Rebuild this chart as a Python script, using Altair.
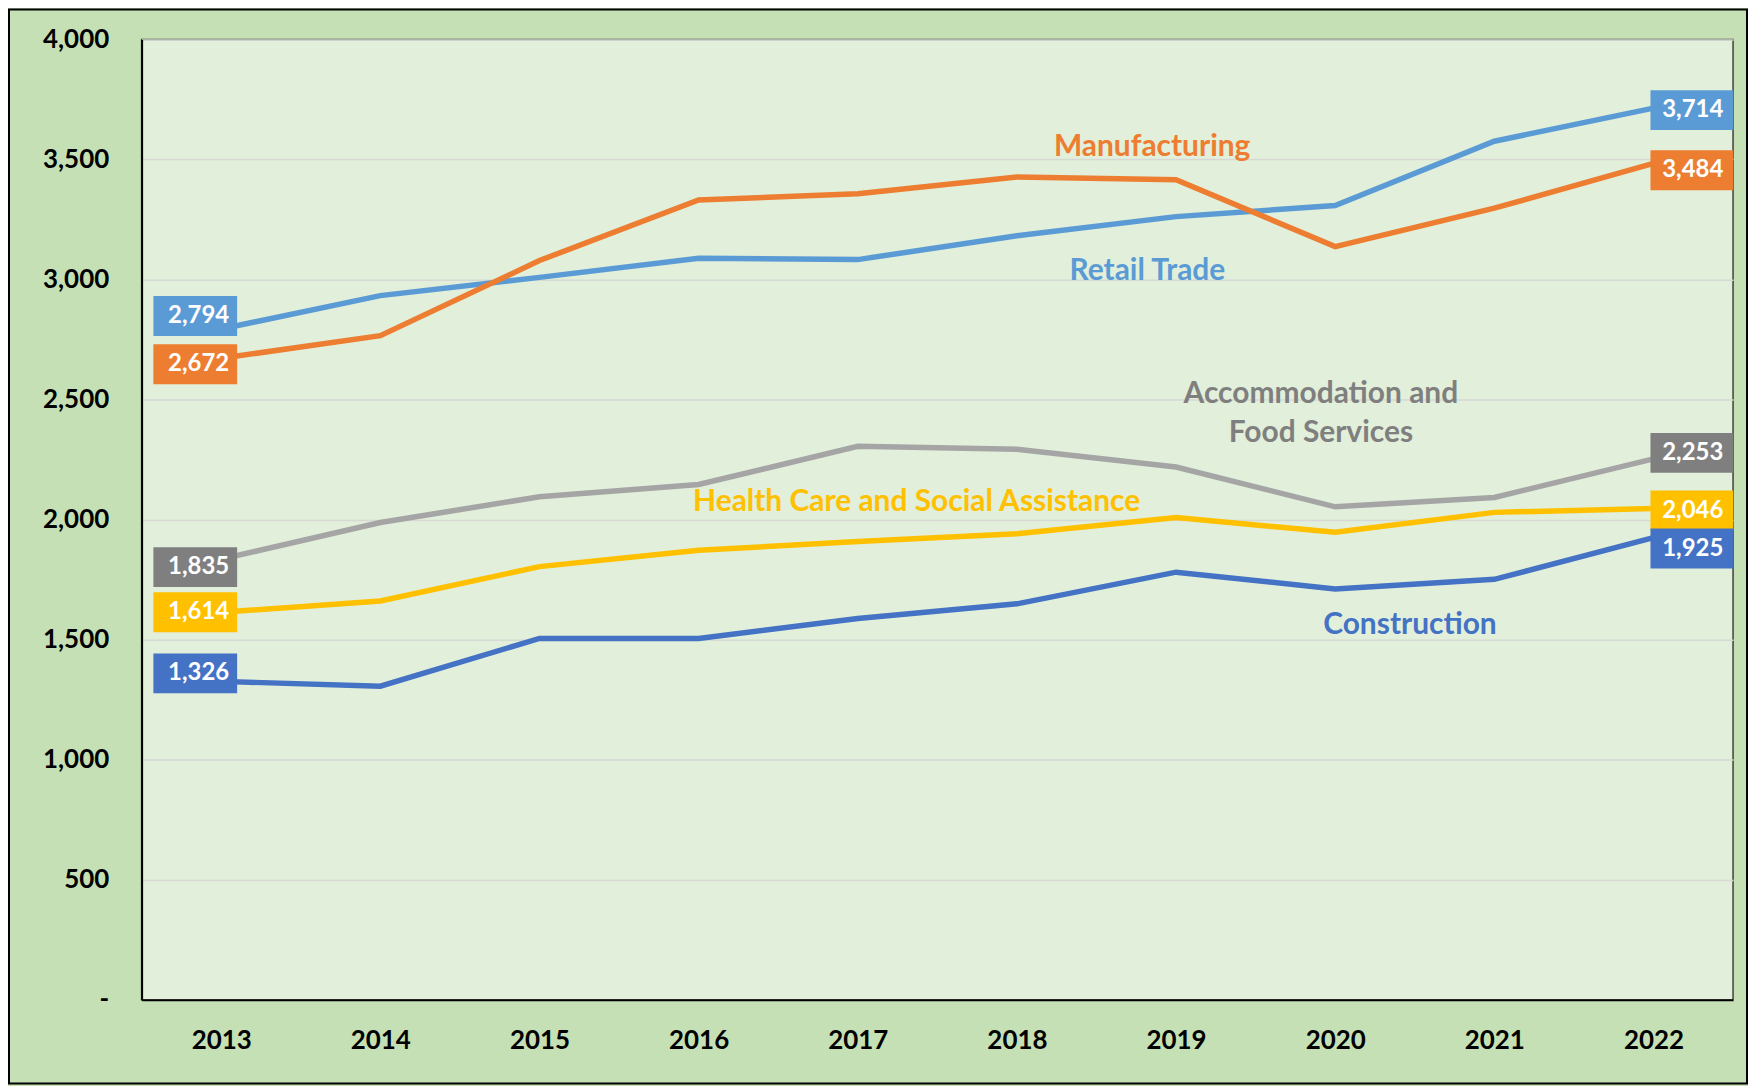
import altair as alt
import pandas as pd

# ---------------- data ----------------
years = list(range(2013, 2023))
series_names = ["Retail Trade", "Manufacturing", "Accommodation and Food Services",
                "Health Care and Social Assistance", "Construction"]
retail = [2794, 2933, 3009, 3089, 3083, 3182, 3262, 3308, 3576, 3714]
manufacturing = [2672, 2766, 3079, 3331, 3357, 3427, 3416, 3137, 3297, 3484]
accommodation = [1835, 1988, 2095, 2146, 2305, 2293, 2219, 2053, 2092, 2253]
health = [1614, 1661, 1804, 1872, 1909, 1941, 2009, 1947, 2030, 2046]
construction = [1326, 1306, 1505, 1505, 1588, 1649, 1781, 1711, 1751, 1925]
y_ticks = [0, 500, 1000, 1500, 2000, 2500, 3000, 3500, 4000]

# ---------------- styles ----------------
line_colors = ["#5b9bd5", "#ed7d31", "#a5a5a5", "#ffc000", "#4472c4"]
box_colors = ["#5b9bd5", "#ed7d31", "#7f7f7f", "#ffc000", "#4472c4"]
FONT = "Lato"
PLOT_W, PLOT_H = 1596, 963
Y_MAX = 4000
# vertical nudges (px, positive = down) for the end-value boxes
nudge_left = [-13, 6, 8, 0, -8]
nudge_right = [2, 7, -6, 2, 11]

# series annotation labels (text, x in years, y in data units)
ann_text = ["Manufacturing", "Retail Trade", "Accommodation and\nFood Services",
            "Health Care and Social Assistance", "Construction"]
ann_x = [2018.85, 2018.82, 2019.91, 2017.37, 2020.47]
ann_y = [3551, 3036, 2525, 2073, 1562]
ann_colors = ["#ed7d31", "#5b9bd5", "#7f7f7f", "#ffc000", "#4472c4"]

values = [retail, manufacturing, accommodation, health, construction]
rows = []
for name, vals in zip(series_names, values):
    for yr, v in zip(years, vals):
        rows.append({"series": name, "year": yr, "value": v})
df = pd.DataFrame(rows)

px2val = Y_MAX / PLOT_H


def label_frame(idx, nudges):
    out = []
    for i, (name, vals) in enumerate(zip(series_names, values)):
        v = vals[idx]
        out.append({"series": name, "year": years[idx], "value": v,
                    "ly": v - nudges[i] * px2val,
                    "label": f"{v:,}", "box": box_colors[i]})
    return pd.DataFrame(out)


left_df = label_frame(0, nudge_left)
right_df = label_frame(-1, nudge_right)
ann_df = pd.DataFrame({"text": ann_text, "x": ann_x, "y": ann_y, "c": ann_colors})

x_scale = alt.Scale(domain=[2012.5, 2022.5], nice=False, zero=False)
y_scale = alt.Scale(domain=[0, Y_MAX], nice=False)

x_axis = alt.Axis(values=years, format="d", title=None, grid=False, ticks=False,
                  domainColor="black", domainWidth=2, labelFont=FONT, labelFontSize=26,
                  labelFontWeight="bold", labelColor="black", labelPadding=41,
                  labelBaseline="middle")
y_axis = alt.Axis(values=y_ticks, title=None, grid=True, gridColor="#d6d9d4", gridWidth=1.5,
                  ticks=False, domainColor="black", domainWidth=2, labelFont=FONT,
                  labelFontSize=26, labelFontWeight="bold", labelColor="black",
                  labelPadding=33,
                  labelExpr="datum.value == 0 ? '-' : format(datum.value, ',')")

lines = alt.Chart(df).mark_line(strokeWidth=5.5).encode(
    x=alt.X("year:Q", scale=x_scale, axis=x_axis),
    y=alt.Y("value:Q", scale=y_scale, axis=y_axis),
    color=alt.Color("series:N", scale=alt.Scale(domain=series_names, range=line_colors),
                    legend=None),
    order=alt.Order("year:Q"),
)


def boxes(frame, x_off, x2_off, text_dx):
    base = alt.Chart(frame)
    rect = base.mark_rect(xOffset=x_off, x2Offset=x2_off, yOffset=-20, y2Offset=20).encode(
        x=alt.X("year:Q", scale=x_scale, title=None),
        x2="year:Q",
        y=alt.Y("ly:Q", scale=y_scale, title=None),
        y2="ly:Q",
        fill=alt.Fill("box:N", scale=None),
    )
    txt = base.mark_text(align="right", baseline="middle", dx=text_dx, font=FONT,
                         fontSize=24, fontWeight="bold", color="white").encode(
        x=alt.X("year:Q", scale=x_scale, title=None),
        y=alt.Y("ly:Q", scale=y_scale, title=None),
        text="label:N",
    )
    return rect + txt


left_boxes = boxes(left_df, -68, 16, 8)
right_boxes = boxes(right_df, -3, 80, 70)

annotations = alt.Chart(ann_df).mark_text(font=FONT, fontSize=30, fontWeight="bold",
                                          align="center", baseline="middle",
                                          lineBreak="\n", lineHeight=40).encode(
    x=alt.X("x:Q", scale=x_scale, title=None),
    y=alt.Y("y:Q", scale=y_scale, title=None),
    text="text:N",
    color=alt.Color("c:N", scale=None),
)

frame = alt.Chart(pd.DataFrame({"a": [0]})).mark_rect(
    fillOpacity=0, stroke="black", strokeWidth=2).encode(
    x=alt.value(-133), x2=alt.value(1610), y=alt.value(-30), y2=alt.value(1047))

chart = alt.layer(lines, frame, annotations, left_boxes, right_boxes).properties(
    width=PLOT_W, height=PLOT_H,
    padding={"left": 134, "top": 30, "right": 15, "bottom": 85},
    autosize=alt.AutoSizeParams(type="none"),
    background="#c5e0b4",
).configure_view(
    fill="#e2efda", stroke="#404040", strokeWidth=1.5
)

chart.save("out.html", embed_options={"renderer": "svg", "actions": False})
